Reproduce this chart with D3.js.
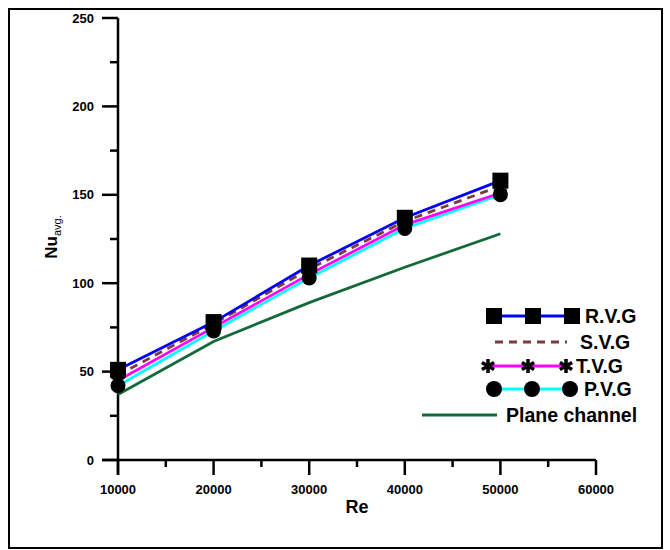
<!DOCTYPE html>
<meta charset="utf-8">
<script src="https://d3js.org/d3.v7.min.js"></script>
<style>
  body { margin: 0; background: #fff; }
  text { font-family: "Liberation Sans", Arial, sans-serif; font-weight: bold; }
</style>
<svg width="670" height="550"></svg>
<script>

    // data
    const re = [10000, 20000, 30000, 40000, 50000];
    const rvg = [51, 78, 110, 137, 158];
    const svgNu = [48, 77, 108, 135, 155];
    const tvg = [45, 75, 105, 133, 151];
    const pvg = [42, 73, 103, 131, 150];
    const plane = [37, 67, 89, 109, 128];

    const xTicks = [10000, 20000, 30000, 40000, 50000, 60000];
    const yTicks = [0, 50, 100, 150, 200, 250];

    const svg = d3.select("svg");

    // frame
    svg.append("rect")
        .attr("x", 9).attr("y", 9)
        .attr("width", 653).attr("height", 539)
        .attr("fill", "none")
        .attr("stroke", "black")
        .attr("stroke-width", 2);

    const x = d3.scaleLinear().domain([10000, 60000]).range([118, 596]);
    const y = d3.scaleLinear().domain([0, 250]).range([460, 18]);

    // axes
    const g = svg.append("g").attr("stroke", "black").attr("stroke-width", 2.5);
    g.append("line").attr("x1", 102).attr("x2", x(60000)).attr("y1", y(0)).attr("y2", y(0));
    g.append("line").attr("x1", x(10000)).attr("x2", x(10000)).attr("y1", y(250)).attr("y2", 475);

    xTicks.forEach(t => {
        g.append("line").attr("x1", x(t)).attr("x2", x(t)).attr("y1", y(0)).attr("y2", y(0) + 15);
    });
    d3.range(15000, 60000, 10000).forEach(t => {
        g.append("line").attr("x1", x(t)).attr("x2", x(t)).attr("y1", y(0)).attr("y2", y(0) + 7);
    });
    yTicks.forEach(t => {
        g.append("line").attr("x1", x(10000) - 16).attr("x2", x(10000)).attr("y1", y(t)).attr("y2", y(t));
    });
    d3.range(25, 250, 50).forEach(t => {
        g.append("line").attr("x1", x(10000) - 8).attr("x2", x(10000)).attr("y1", y(t)).attr("y2", y(t));
    });

    svg.selectAll(".xl").data(xTicks).enter().append("text")
        .attr("x", d => x(d)).attr("y", 494)
        .attr("text-anchor", "middle")
        .style("font-size", "13px")
        .text(d => d);

    svg.selectAll(".yl").data(yTicks).enter().append("text")
        .attr("x", 94).attr("y", d => y(d) + 4.5)
        .attr("text-anchor", "end")
        .style("font-size", "13px")
        .text(d => d);

    svg.append("text")
        .attr("x", 357).attr("y", 513)
        .attr("text-anchor", "middle")
        .style("font-size", "18px")
        .text("Re");

    const yt = svg.append("text")
        .attr("transform", "translate(57,237) rotate(-90)")
        .attr("text-anchor", "middle");
    yt.append("tspan").style("font-size", "17px").text("Nu");
    yt.append("tspan").attr("dy", 4).style("font-size", "11px").style("font-weight", "normal").text("avg.");

    // series
    const series = [
        {name: "Plane channel", vals: plane, color: "#13693a", dash: null, mark: null},
        {name: "P.V.G", vals: pvg, color: "#00ffff", dash: null, mark: "circle"},
        {name: "T.V.G", vals: tvg, color: "#ff00ff", dash: null, mark: "star"},
        {name: "S.V.G", vals: svgNu, color: "#7b3b3b", dash: "8,6", mark: null},
        {name: "R.V.G", vals: rvg, color: "#0000ff", dash: null, mark: "square"}
    ];

    const line = d3.line().x(d => x(d[0])).y(d => y(d[1]));

    function drawMark(sel, type, cx, cy, size) {
        if (type === "square") {
            sel.append("rect").attr("x", cx - size / 2).attr("y", cy - size / 2)
                .attr("width", size).attr("height", size).attr("fill", "black");
        } else if (type === "circle") {
            sel.append("circle").attr("cx", cx).attr("cy", cy).attr("r", size / 2).attr("fill", "black");
        } else if (type === "star") {
            sel.append("path")
                .attr("d", d3.symbol().type(d3.symbolAsterisk).size(size * size * 0.55)())
                .attr("transform", "translate(" + cx + "," + cy + ")")
                .attr("fill", "none").attr("stroke", "black").attr("stroke-width", 3.5);
        }
    }

    const plot = svg.append("g");
    series.forEach(s => {
        const pts = re.map((r, i) => [r, s.vals[i]]);
        plot.append("path")
            .attr("d", line(pts))
            .attr("fill", "none")
            .attr("stroke", s.color)
            .attr("stroke-width", 2.8)
            .attr("stroke-dasharray", s.dash);
    });
    series.forEach(s => {
        if (!s.mark) return;
        re.forEach((r, i) => drawMark(plot, s.mark, x(r), y(s.vals[i]), s.mark === "circle" ? 15 : 16));
    });

    // legend
    const legend = [
        {s: series[4], y: 316, lx: [494, 572], mx: [494, 533, 572], tx: 585},
        {s: series[3], y: 342, lx: [495, 567], mx: [], tx: 580},
        {s: series[2], y: 366, lx: [488, 566], mx: [488, 528, 566], tx: 576},
        {s: series[1], y: 389, lx: [494, 570], mx: [494, 532, 570], tx: 584},
        {s: series[0], y: 415, lx: [422, 497], mx: [], tx: 506}
    ];
    const lg = svg.append("g");
    legend.forEach(l => {
        lg.append("line")
            .attr("x1", l.lx[0]).attr("x2", l.lx[1]).attr("y1", l.y).attr("y2", l.y)
            .attr("stroke", l.s.color).attr("stroke-width", 2.8)
            .attr("stroke-dasharray", l.s.dash);
        l.mx.forEach(m => drawMark(lg, l.s.mark, m, l.y, 16));
        lg.append("text")
            .attr("x", l.tx).attr("y", l.y + 7)
            .style("font-size", "19.5px")
            .text(l.s.name);
    });

</script>
